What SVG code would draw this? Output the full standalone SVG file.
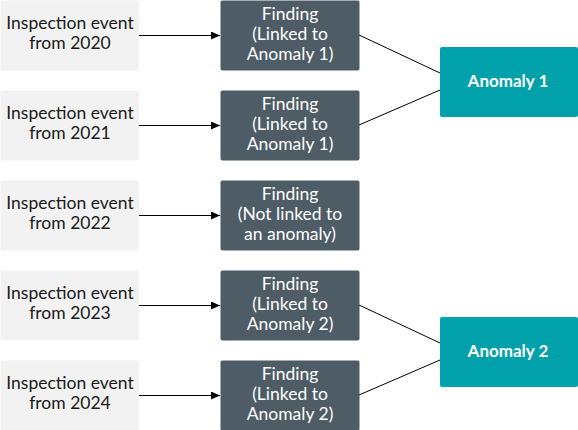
<svg xmlns="http://www.w3.org/2000/svg" width="578" height="430" viewBox="0 0 578 430">
<defs>
<marker id="arr" markerWidth="10" markerHeight="8" refX="9" refY="4" orient="auto" markerUnits="userSpaceOnUse">
<path d="M0,0 L9,4 L0,8 Z" fill="#000"/>
</marker>
<style>
.ev{fill:#f2f2f2}
.fd{fill:#4e5c66}
.an{fill:#00a1ab}
text{font-family:Lato,"Noto Sans",sans-serif;font-size:17.5px;text-anchor:middle}
.t1{fill:#1a1a1a}
.t2{fill:#ffffff;font-size:17.5px}
.t3{fill:#ffffff;font-weight:bold;font-size:17px}
.c{stroke:#000;stroke-width:1;fill:none}
</style>
</defs>
<g id="connectors">
<line class="c" x1="139" y1="35.5" x2="220" y2="35.5" marker-end="url(#arr)"/>
<line class="c" x1="139" y1="125.5" x2="220" y2="125.5" marker-end="url(#arr)"/>
<line class="c" x1="139" y1="215.5" x2="220" y2="215.5" marker-end="url(#arr)"/>
<line class="c" x1="139" y1="305.5" x2="220" y2="305.5" marker-end="url(#arr)"/>
<line class="c" x1="139" y1="395.5" x2="220" y2="395.5" marker-end="url(#arr)"/>
<line class="c" x1="359" y1="35" x2="440" y2="73"/>
<line class="c" x1="359" y1="125" x2="440" y2="90"/>
<line class="c" x1="359" y1="305" x2="440" y2="343"/>
<line class="c" x1="359" y1="395" x2="440" y2="360"/>
</g>
<g id="ev2020"><rect class="ev" x="0.5" y="0.5" width="138.5" height="70" rx="2"/><text class="t1" x="70" y="29">Inspection event</text><text class="t1" x="70" y="49">from 2020</text></g>
<g id="ev2021"><rect class="ev" x="0.5" y="90.5" width="138.5" height="70" rx="2"/><text class="t1" x="70" y="119">Inspection event</text><text class="t1" x="70" y="139">from 2021</text></g>
<g id="ev2022"><rect class="ev" x="0.5" y="180.5" width="138.5" height="70" rx="2"/><text class="t1" x="70" y="209">Inspection event</text><text class="t1" x="70" y="229">from 2022</text></g>
<g id="ev2023"><rect class="ev" x="0.5" y="270.5" width="138.5" height="70" rx="2"/><text class="t1" x="70" y="299">Inspection event</text><text class="t1" x="70" y="319">from 2023</text></g>
<g id="ev2024"><rect class="ev" x="0.5" y="360.5" width="138.5" height="70" rx="2"/><text class="t1" x="70" y="389">Inspection event</text><text class="t1" x="70" y="409">from 2024</text></g>
<g id="f2020"><rect class="fd" x="220.5" y="0.5" width="139" height="70" rx="2"/><text class="t2" x="290" y="20">Finding</text><text class="t2" x="290" y="40">(Linked to</text><text class="t2" x="290" y="60">Anomaly 1)</text></g>
<g id="f2021"><rect class="fd" x="220.5" y="90.5" width="139" height="70" rx="2"/><text class="t2" x="290" y="110">Finding</text><text class="t2" x="290" y="130">(Linked to</text><text class="t2" x="290" y="150">Anomaly 1)</text></g>
<g id="f2022"><rect class="fd" x="220.5" y="180.5" width="139" height="70" rx="2"/><text class="t2" x="290" y="200">Finding</text><text class="t2" x="290" y="220">(Not linked to</text><text class="t2" x="290" y="240">an anomaly)</text></g>
<g id="f2023"><rect class="fd" x="220.5" y="270.5" width="139" height="70" rx="2"/><text class="t2" x="290" y="290">Finding</text><text class="t2" x="290" y="310">(Linked to</text><text class="t2" x="290" y="330">Anomaly 2)</text></g>
<g id="f2024"><rect class="fd" x="220.5" y="360.5" width="139" height="70" rx="2"/><text class="t2" x="290" y="380">Finding</text><text class="t2" x="290" y="400">(Linked to</text><text class="t2" x="290" y="420">Anomaly 2)</text></g>
<g id="anomaly1"><rect class="an" x="440" y="47" width="138" height="70" rx="2"/><text class="t3" x="508" y="87">Anomaly 1</text></g>
<g id="anomaly2"><rect class="an" x="440" y="317" width="138" height="70" rx="2"/><text class="t3" x="508" y="357">Anomaly 2</text></g>
</svg>
